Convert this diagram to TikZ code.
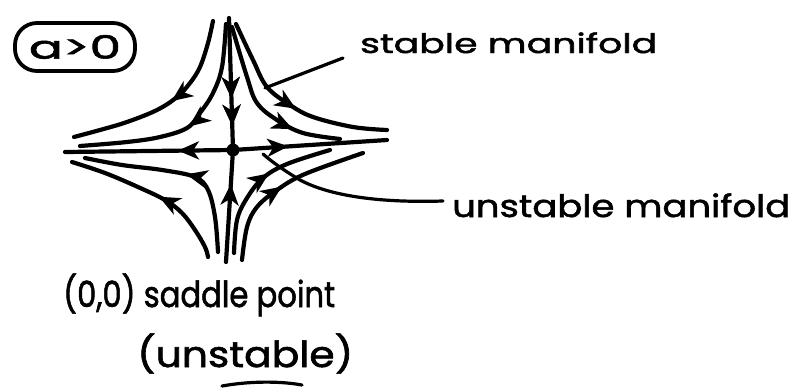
\documentclass[tikz,border=0pt]{standalone}
\usepackage{graphicx}
\usepackage{fontspec}
\setmainfont{Poppins}
\newfontfamily\hand{Poppins}[FakeBold=1.6]
\usetikzlibrary{arrows.meta,decorations.markings}
\newcommand{\hw}[3]{\resizebox{#1pt}{\height}{\fontsize{#2pt}{#2pt}\selectfont\hand #3}}
\tikzset{
  traj/.style={line width=4.2pt, line cap=round, line join=round},
  lead/.style={line width=3.2pt, line cap=round},
  arr/.style={postaction={decorate}, decoration={markings,
      mark=at position #1 with {\arrow{Stealth[length=21pt,width=18pt,inset=6pt]}}}},
  txt/.style={inner sep=0pt, anchor=base west},
}
\begin{document}
\begin{tikzpicture}[x=1pt,y=-1pt]
\useasboundingbox (0,0) rectangle (807,391);
\fill[white] (0,0) rectangle (807,391);

% condition
\node[draw, line width=3.8pt, rounded corners=22pt, minimum width=120pt,
      minimum height=48pt, inner sep=0pt] (cond) at (75,47) {\hw{92}{32}{a>0}};

% saddle point
\node[circle, fill, inner sep=0pt, minimum size=13pt] (O) at (233,150) {};
\coordinate (vtop) at (229,18);
\coordinate (vbot) at (226,262);
\coordinate (hleft) at (65,152);
\coordinate (hright) at (387,140);

% stable manifold (vertical)
\draw[traj, arr=0.64, arr=0.86] (vtop) -- (O);
\draw[traj, arr=0.74] (vbot) -- (O);
% unstable manifold (horizontal)
\draw[traj, arr=0.3] (O) -- (hleft);
\draw[traj, arr=0.33] (O) -- (hright);

% upper left
\draw[traj, arr=0.47] plot[smooth, tension=0.6] coordinates
  {(213,21) (208,43) (200,67) (190,83) (177,97) (157,110) (127,122) (100,130) (74,137)};
\draw[traj, arr=0.5] plot[smooth, tension=0.6] coordinates
  {(226,24) (222,67) (213,93) (200,113) (187,128) (160,137) (127,142) (80,146)};
% upper right
\draw[traj, arr=0.53] plot[smooth, tension=0.6] coordinates
  {(236,24) (253,60) (267,87) (290,105) (313,117) (353,127) (387,130)};
\draw[traj, arr=0.72] plot[smooth, tension=0.6] coordinates
  {(232,27) (247,77) (257,103) (277,120) (303,133) (340,139)};
% lower left
\draw[traj, arr=0.46] plot[smooth, tension=0.6] coordinates
  {(208,257) (205,247) (195,230) (182,213) (165,200) (138,187) (105,173) (72,162)};
\draw[traj, arr=0.47] plot[smooth, tension=0.6] coordinates
  {(218,252) (215,217) (208,190) (195,177) (162,170) (122,165) (85,158)};
% lower right
\draw[traj, arr=0.58] plot[smooth, tension=0.6] coordinates
  {(234,253) (237,220) (247,198) (263,178) (287,164) (330,150)};
\draw[traj, arr=0.5] plot[smooth, tension=0.6] coordinates
  {(242,260) (247,227) (257,207) (277,190) (305,174) (363,153)};

% labels
\node[txt] (stab) at (360,53) {\hw{297}{27}{stable manifold}};
\node[txt] (unst) at (452,217) {\hw{338}{31}{unstable manifold}};
\node[txt] (sad) at (63,307) {\hw{272}{36}{(0,0) saddle point}};
\node[txt] (uns2) at (137,367) {\hw{216}{36}{(unstable)}};

\coordinate (sl) at (265,88);
\coordinate (ul) at (263,154);
\draw[lead] ([xshift=-17pt,yshift=-5pt]stab.base west) -- (sl);
\draw[lead] ([xshift=-9pt,yshift=16pt]unst.base west) .. controls (380,203) and (330,196) .. (300,180)
   .. controls (285,171) and (272,162) .. (ul);
\draw[traj, line width=3.2pt] (222,386) .. controls (250,381) and (280,381) .. (302,385);
\end{tikzpicture}
\end{document}
